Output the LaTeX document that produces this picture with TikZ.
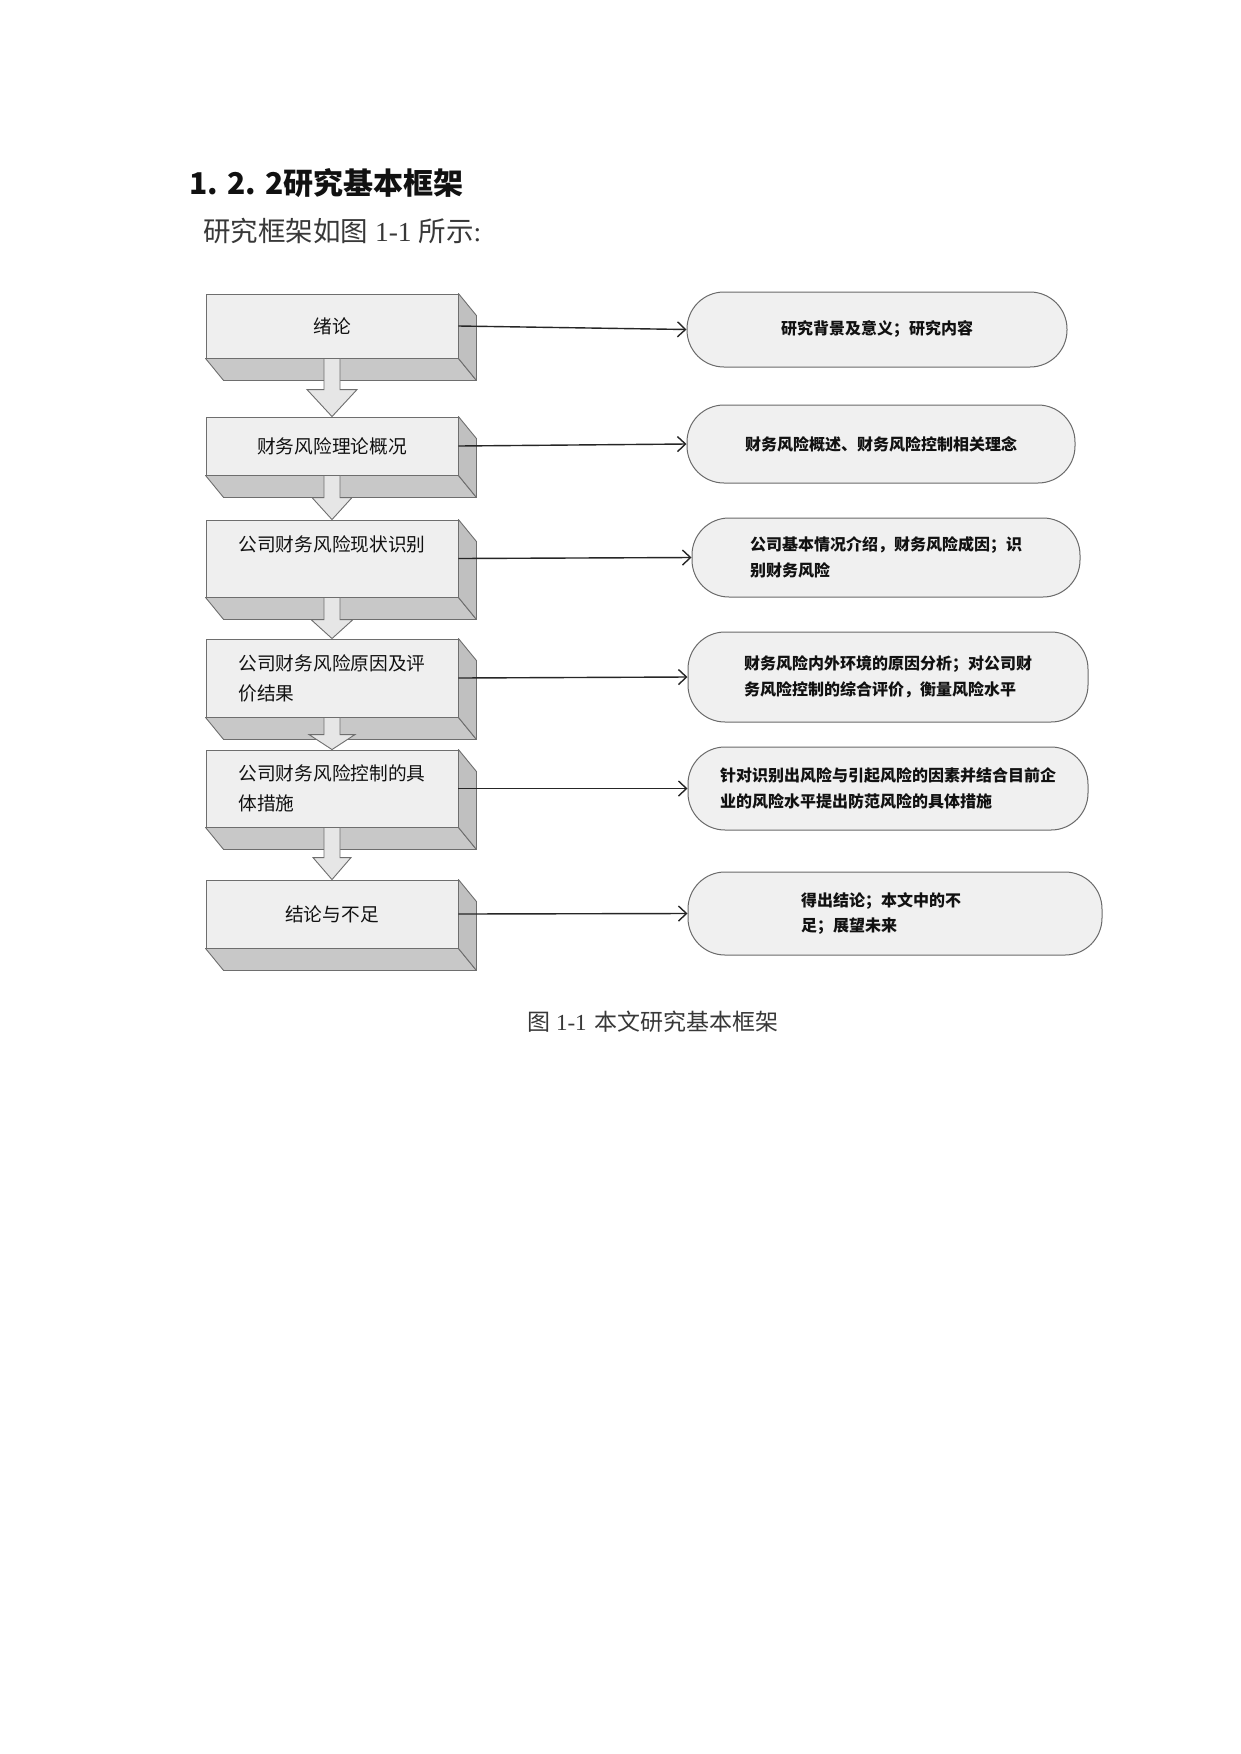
\documentclass[tikz,border=0pt]{standalone}
\usepackage{fontspec}
\setmainfont{Liberation Serif}
\newfontfamily\cjk{Noto Sans CJK SC}
\usetikzlibrary{arrows.meta,calc}
\definecolor{frontc}{HTML}{EFEFEF}
\definecolor{sidec}{HTML}{C0C0C0}
\definecolor{botc}{HTML}{C8C8C8}
\definecolor{edgec}{HTML}{6E6E6E}
\definecolor{arrfill}{HTML}{E6E6E6}
\definecolor{pillc}{HTML}{F0F0F0}
\definecolor{pilledge}{HTML}{6A6A6A}
\definecolor{inkc}{HTML}{111111}
\definecolor{greyink}{HTML}{383838}
\newcommand\extrude[1]{%
  \draw[face, fill=botc] (#1.south west) -- (#1.south east) -- ($(#1.south east)+(18,22)$) -- ($(#1.south west)+(18,22)$) -- cycle;
  \draw[face, fill=sidec] (#1.north east) -- ($(#1.north east)+(18,22)$) -- ($(#1.south east)+(18,22)$) -- (#1.south east) -- cycle;}
\newcommand\blockarrow[4]{%
  \draw[blockarr] ($(#1.south)+(-8,0)$) -- ($(#2.north)+(-8,-#3)$) -- ($(#2.north)+(-#4,-#3)$) -- (#2.north) -- ($(#2.north)+(#4,-#3)$) -- ($(#2.north)+(8,-#3)$) -- ($(#1.south)+(8,0)$) -- cycle;}
\tikzset{
  frontbox/.style={draw=edgec, fill=frontc, line width=0.9pt, minimum width=252pt, inner sep=0pt, align=left, text=inkc, font=\cjk\fontsize{18.7}{30}\selectfont},
  face/.style={draw=edgec, line width=0.9pt, line join=round},
  pill/.style={draw=pilledge, fill=pillc, line width=1pt, rounded corners=37pt, inner sep=0pt, align=left, text=inkc, font=\cjk\bfseries\fontsize{16}{25.5}\selectfont},
  link/.style={draw=black!85, line width=1.4pt, -{Straight Barb[length=8pt,width=15pt,line width=1.4pt]}},
  blockarr/.style={draw=edgec, fill=arrfill, line width=0.9pt, line join=miter},
}
\begin{document}
\begin{tikzpicture}[x=1pt,y=-1pt]
\useasboundingbox[fill=white] (0,0) rectangle (1240,1754);
% headings
\node[anchor=west, inner sep=0pt, text=inkc, font=\cjk\bfseries\fontsize{30}{34}\selectfont] (H1) at (189,183) {1. 2. 2研究基本框架};
\node[anchor=west, inner sep=0pt, text=greyink, font=\fontsize{27.5}{32}\selectfont] (H2) at (203,231) {{\cjk 研究框架如图} 1-1 {\cjk 所示}:};
% left column
\node[frontbox, minimum height=64pt] (L1) at (332,326) {绪论};
\node[frontbox, minimum height=58pt] (L2) at (332,446) {财务风险理论概况};
\node[frontbox, minimum height=77pt] (L3) at (332,558.5) {公司财务风险现状识别\\\mbox{}};
\node[frontbox, minimum height=78pt] (L4) at (332,678) {公司财务风险原因及评\\价结果};
\node[frontbox, minimum height=77pt] (L5) at (332,788.5) {公司财务风险控制的具\\体措施};
\node[frontbox, minimum height=68pt] (L6) at (332,914) {结论与不足};
\extrude{L1}\extrude{L2}\extrude{L3}\extrude{L4}\extrude{L5}\extrude{L6}
\blockarrow{L1}{L2}{27}{25}
\blockarrow{L2}{L3}{22}{20}
\blockarrow{L3}{L4}{19}{21}
\blockarrow{L4}{L5}{15}{23}
\blockarrow{L5}{L6}{22}{19}
% right column
\node[pill, minimum width=380pt, minimum height=75pt] (R1) at (877,329.5) {研究背景及意义；研究内容};
\node[pill, minimum width=388pt, minimum height=78pt] (R2) at (881,444) {财务风险概述、财务风险控制相关理念};
\node[pill, minimum width=388pt, minimum height=79pt] (R3) at (886,557.5) {公司基本情况介绍，财务风险成因；识\\别财务风险};
\node[pill, minimum width=400pt, minimum height=90pt] (R4) at (888,677) {财务风险内外环境的原因分析；对公司财\\务风险控制的综合评价，衡量风险水平};
\node[pill, minimum width=400pt, minimum height=83pt] (R5) at (888,788.5) {针对识别出风险与引起风险的因素并结合目前企\\业的风险水平提出防范风险的具体措施};
\node[pill, minimum width=414pt, minimum height=83pt] (R6) at (895,913.5) {\hspace*{-28pt}得出结论；本文中的不\\\hspace*{-28pt}足；展望未来};
% connectors
\draw[link] (L1.east) -- (R1.west);
\draw[link] (L2.east) -- (R2.west);
\draw[link] (L3.east) -- (R3.west);
\draw[link] (L4.east) -- (R4.west);
\draw[link] (L5.east) -- (R5.west);
\draw[link] (L6.east) -- (R6.west);
% caption
\node[inner sep=0pt, text=greyink, font=\fontsize{23}{26}\selectfont] (CAP) at (653,1022) {{\cjk 图} 1-1\hspace{8pt}{\cjk 本文研究基本框架}};
\end{tikzpicture}
\end{document}
